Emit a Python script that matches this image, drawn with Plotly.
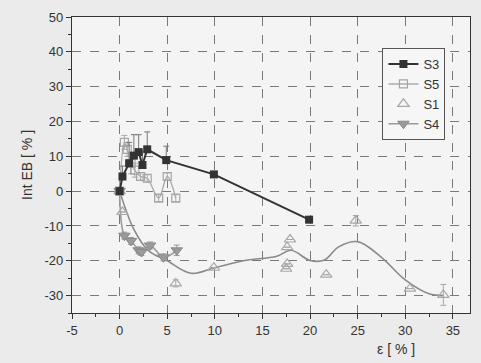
import plotly.graph_objects as go

# Strain (%) vs. relative change of EB intensity (%)
s3_x = [0.0, 0.3, 1.0, 1.5, 2.0, 2.4, 2.9, 4.9, 9.9, 19.9]
s3_y = [0.0, 4.2, 8.0, 10.2, 11.2, 7.5, 12.0, 8.9, 4.8, -8.2]
s3_err = [0, 3, 6, 6, 5, 4, 5, 4, 0, 0]

s5_x = [0.0, 0.5, 0.8, 1.2, 1.6, 2.2, 2.9, 4.1, 5.0, 5.9]
s5_y = [0.0, 14.0, 12.0, 8.0, 6.0, 4.2, 3.7, -2.0, 4.2, -2.0]
s5_err = [0, 2, 2, 3, 2, 1, 1, 1, 1, 1]

s1_x = [0.0, 0.3, 5.9, 9.9, 17.5, 17.6, 17.9, 17.6, 21.7, 24.8, 30.5, 34.0]
s1_y = [0.0, -6.0, -26.5, -22.0, -22.3, -16.1, -13.9, -20.9, -24.0, -8.5, -28.0, -29.8]
s1_err = [0, 0, 1, 0, 0, 0, 0, 0, 0, 1.5, 0, 3]

# smoothed trend for S1
s1_fit_x = [0.0, 1.5, 3.0, 5.0, 7.5, 10.0, 13.0, 16.5, 18.0, 20.0, 21.5, 23.0, 25.0, 27.5, 30.0, 32.5, 34.0]
s1_fit_y = [0.0, -11.0, -17.0, -20.0, -23.6, -22.0, -20.0, -18.7, -17.0, -19.9, -19.8, -16.0, -14.5, -19.0, -25.5, -29.5, -30.0]

s4_x = [0.0, 0.5, 1.2, 2.0, 2.3, 3.2, 4.6, 6.0]
s4_y = [0.0, -12.8, -14.3, -17.0, -17.5, -15.6, -19.0, -17.0]
s4_err = [0, 1, 1, 1, 1, 1, 1, 1.5]

x_ticks = [-5, 0, 5, 10, 15, 20, 25, 30, 35]
y_ticks = [-30, -20, -10, 0, 10, 20, 30, 40, 50]

FONT = "Liberation Sans, Arial, sans-serif"

fig = go.Figure()

fig.add_trace(go.Scatter(
    x=s1_fit_x, y=s1_fit_y, mode="lines", line=dict(color="#8a8a8a", width=1.6, shape="spline", smoothing=1.0),
    showlegend=False, hoverinfo="skip"))

fig.add_trace(go.Scatter(
    x=s4_x, y=s4_y, mode="lines+markers", name="S4",
    line=dict(color="#9a9a9a", width=1.6, shape="spline"),
    marker=dict(symbol="triangle-down", size=10, color="#9a9a9a", line=dict(color="#8a8a8a", width=1)),
    error_y=dict(type="data", array=s4_err, color="#9a9a9a", thickness=1, width=3)))

fig.add_trace(go.Scatter(
    x=s1_x, y=s1_y, mode="markers", name="S1",
    marker=dict(symbol="triangle-up-open", size=10, color="#a8a8a8", line=dict(width=1.2)),
    error_y=dict(type="data", array=s1_err, color="#a8a8a8", thickness=1, width=3)))

fig.add_trace(go.Scatter(
    x=s5_x, y=s5_y, mode="lines+markers", name="S5",
    line=dict(color="#ababab", width=1.4, shape="spline"),
    marker=dict(symbol="square-open", size=8, color="#a5a5a5", line=dict(width=1.2)),
    error_y=dict(type="data", array=s5_err, color="#aaaaaa", thickness=1, width=3)))

fig.add_trace(go.Scatter(
    x=s3_x, y=s3_y, mode="lines+markers", name="S3",
    line=dict(color="#333333", width=2),
    marker=dict(symbol="square", size=8, color="#333333"),
    error_y=dict(type="data", array=s3_err, arrayminus=[0] * len(s3_err), color="#777777", thickness=1, width=3)))

axis_common = dict(
    showline=True, linecolor="#333333", linewidth=1.2, mirror=True,
    ticks="outside", ticklen=5, tickcolor="#333333",
    showgrid=True, gridcolor="#7a7a7a", griddash="dash", gridwidth=1,
    zeroline=False,
    tickfont=dict(family=FONT, size=13, color="#333333"),
    minor=dict(ticks="outside", ticklen=3, tickcolor="#333333", showgrid=False),
)

fig.update_xaxes(range=[-5, 36.8], tickvals=x_ticks, ticktext=[str(v) for v in x_ticks],
                 minor_dtick=2.5, **axis_common)
fig.update_yaxes(range=[-35, 50], tickvals=y_ticks, ticktext=[str(v) for v in y_ticks],
                 minor_dtick=5, title=dict(text="Int EB [ % ]", font=dict(family=FONT, size=14, color="#333333"), standoff=8),
                 **axis_common)

fig.add_annotation(x=0.815, y=-0.122, xref="paper", yref="paper", text="ε [ % ]", showarrow=False,
                   font=dict(family=FONT, size=14, color="#333333"), xanchor="center", yanchor="middle")

fig.update_layout(
    width=481, height=363,
    margin=dict(l=72, r=10, t=12, b=50),
    paper_bgcolor="#ebebeb", plot_bgcolor="#f4f4f4",
    font=dict(family=FONT, color="#333333"),
    legend=dict(x=0.78, y=0.895, xanchor="left", yanchor="top", traceorder="reversed",
                bgcolor="#f6f6f6", bordercolor="#555555", borderwidth=1,
                font=dict(family=FONT, size=13, color="#333333"),
                itemwidth=30, tracegroupgap=0),
)

fig.write_html("out.html")
